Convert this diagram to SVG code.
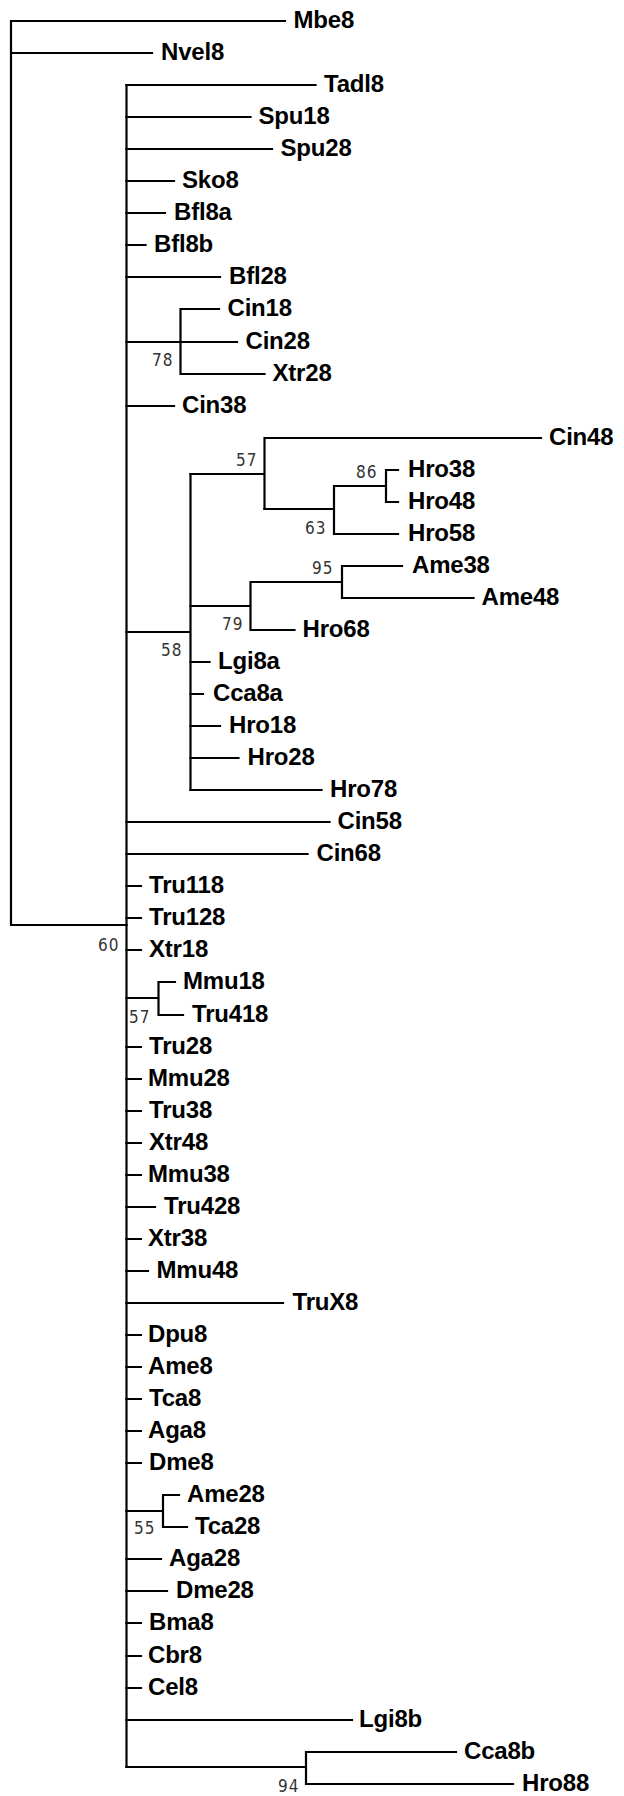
<svg xmlns="http://www.w3.org/2000/svg" width="624" height="1796" viewBox="0 0 624 1796">
<style>
.c{fill:none;stroke:#000;stroke-width:2.2;stroke-linecap:square}
.t{font-family:"Liberation Sans",Arial,sans-serif;font-weight:700;font-size:24px;letter-spacing:-0.2px;fill:#000}
.b{font-family:"DejaVu Sans Condensed","DejaVu Sans",sans-serif;font-size:17px;letter-spacing:1px;fill:#333}
</style>
<rect width="624" height="1796" fill="#fff"/>
<g id="connectors">
<path class="c" d="M11 21V925H126.5M11 21H285M11 53H152"/>
<path class="c" d="M126.5 85V1767"/>
<path class="c" d="M126.5 85H315.5M126.5 117H250.5M126.5 149H272M126.5 181H174M126.5 213H165M126.5 245H145.5M126.5 277H220"/>
<path class="c" d="M180.5 309V374M180.5 309H219M126.5 342H237M180.5 374H264.5"/>
<path class="c" d="M126.5 406H174"/>
<path class="c" d="M126.5 632H190.5M190.5 474V790"/>
<path class="c" d="M190.5 474H264.5M264.5 438V509M264.5 438H541"/>
<path class="c" d="M264.5 509H334M334 486V534M334 534H398M334 486H386M386 470V502M386 470H398M386 502H398"/>
<path class="c" d="M190.5 606H250.5M250.5 582V630M250.5 630H294.5M250.5 582H342M342 566V598M342 566H402M342 598H473.5"/>
<path class="c" d="M190.5 662H209.5M190.5 694H203M190.5 726H220M190.5 758H238.5M190.5 790H321.5"/>
<path class="c" d="M126.5 822H329.5M126.5 854H307.5M126.5 886H141M126.5 918H141M126.5 950H141"/>
<path class="c" d="M126.5 998H158.5M158.5 982V1015M158.5 982H175M158.5 1015H183"/>
<path class="c" d="M126.5 1047H141M126.5 1079H141M126.5 1111H141M126.5 1143H141M126.5 1175H141M126.5 1207H155M126.5 1239H141M126.5 1271H148M126.5 1303H283"/>
<path class="c" d="M126.5 1335H141M126.5 1367H141M126.5 1399H141M126.5 1431H141M126.5 1463H141"/>
<path class="c" d="M126.5 1511H163M163 1495V1527M163 1495H179M163 1527H187"/>
<path class="c" d="M126.5 1559H161M126.5 1591H167M126.5 1623H141M126.5 1656H141M126.5 1688H141M126.5 1720H352"/>
<path class="c" d="M126.5 1767H306M306 1752V1784M306 1752H456M306 1784H513"/>
</g>
<g id="support">
<text class="b" x="152" y="366">78</text>
<text class="b" x="236" y="466">57</text>
<text class="b" x="356" y="478">86</text>
<text class="b" x="305" y="534">63</text>
<text class="b" x="312" y="574">95</text>
<text class="b" x="222" y="630">79</text>
<text class="b" x="161" y="656">58</text>
<text class="b" x="98" y="951">60</text>
<text class="b" x="129" y="1023">57</text>
<text class="b" x="134" y="1534">55</text>
<text class="b" x="278" y="1792">94</text>
</g>
<g id="n-Mbe8"><text class="t" x="293.5" y="28">Mbe8</text></g>
<g id="n-Nvel8"><text class="t" x="161" y="60">Nvel8</text></g>
<g id="n-Tadl8"><text class="t" x="324" y="92">Tadl8</text></g>
<g id="n-Spu18"><text class="t" x="258.5" y="124">Spu18</text></g>
<g id="n-Spu28"><text class="t" x="280.5" y="156">Spu28</text></g>
<g id="n-Sko8"><text class="t" x="182" y="188">Sko8</text></g>
<g id="n-Bfl8a"><text class="t" x="174" y="220">Bfl8a</text></g>
<g id="n-Bfl8b"><text class="t" x="154" y="252">Bfl8b</text></g>
<g id="n-Bfl28"><text class="t" x="229" y="284">Bfl28</text></g>
<g id="n-Cin18"><text class="t" x="227.5" y="316">Cin18</text></g>
<g id="n-Cin28"><text class="t" x="245.5" y="349">Cin28</text></g>
<g id="n-Xtr28"><text class="t" x="272.5" y="381">Xtr28</text></g>
<g id="n-Cin38"><text class="t" x="182" y="413">Cin38</text></g>
<g id="n-Cin48"><text class="t" x="549" y="445">Cin48</text></g>
<g id="n-Hro38"><text class="t" x="408" y="477">Hro38</text></g>
<g id="n-Hro48"><text class="t" x="408" y="509">Hro48</text></g>
<g id="n-Hro58"><text class="t" x="408" y="541">Hro58</text></g>
<g id="n-Ame38"><text class="t" x="412" y="573">Ame38</text></g>
<g id="n-Ame48"><text class="t" x="481.5" y="605">Ame48</text></g>
<g id="n-Hro68"><text class="t" x="302.5" y="637">Hro68</text></g>
<g id="n-Lgi8a"><text class="t" x="218" y="669">Lgi8a</text></g>
<g id="n-Cca8a"><text class="t" x="213" y="701">Cca8a</text></g>
<g id="n-Hro18"><text class="t" x="229" y="733">Hro18</text></g>
<g id="n-Hro28"><text class="t" x="247.5" y="765">Hro28</text></g>
<g id="n-Hro78"><text class="t" x="330" y="797">Hro78</text></g>
<g id="n-Cin58"><text class="t" x="337.5" y="829">Cin58</text></g>
<g id="n-Cin68"><text class="t" x="316.5" y="861">Cin68</text></g>
<g id="n-Tru118"><text class="t" x="149" y="893">Tru118</text></g>
<g id="n-Tru128"><text class="t" x="149" y="925">Tru128</text></g>
<g id="n-Xtr18"><text class="t" x="149" y="957">Xtr18</text></g>
<g id="n-Mmu18"><text class="t" x="183" y="989">Mmu18</text></g>
<g id="n-Tru418"><text class="t" x="192" y="1022">Tru418</text></g>
<g id="n-Tru28"><text class="t" x="149" y="1054">Tru28</text></g>
<g id="n-Mmu28"><text class="t" x="148" y="1086">Mmu28</text></g>
<g id="n-Tru38"><text class="t" x="149" y="1118">Tru38</text></g>
<g id="n-Xtr48"><text class="t" x="149" y="1150">Xtr48</text></g>
<g id="n-Mmu38"><text class="t" x="148" y="1182">Mmu38</text></g>
<g id="n-Tru428"><text class="t" x="164" y="1214">Tru428</text></g>
<g id="n-Xtr38"><text class="t" x="148" y="1246">Xtr38</text></g>
<g id="n-Mmu48"><text class="t" x="156.5" y="1278">Mmu48</text></g>
<g id="n-TruX8"><text class="t" x="292.5" y="1310">TruX8</text></g>
<g id="n-Dpu8"><text class="t" x="148" y="1342">Dpu8</text></g>
<g id="n-Ame8"><text class="t" x="148" y="1374">Ame8</text></g>
<g id="n-Tca8"><text class="t" x="149" y="1406">Tca8</text></g>
<g id="n-Aga8"><text class="t" x="148" y="1438">Aga8</text></g>
<g id="n-Dme8"><text class="t" x="149" y="1470">Dme8</text></g>
<g id="n-Ame28"><text class="t" x="187" y="1502">Ame28</text></g>
<g id="n-Tca28"><text class="t" x="195" y="1534">Tca28</text></g>
<g id="n-Aga28"><text class="t" x="169" y="1566">Aga28</text></g>
<g id="n-Dme28"><text class="t" x="176" y="1598">Dme28</text></g>
<g id="n-Bma8"><text class="t" x="149" y="1630">Bma8</text></g>
<g id="n-Cbr8"><text class="t" x="148" y="1663">Cbr8</text></g>
<g id="n-Cel8"><text class="t" x="148" y="1695">Cel8</text></g>
<g id="n-Lgi8b"><text class="t" x="359" y="1727">Lgi8b</text></g>
<g id="n-Cca8b"><text class="t" x="464" y="1759">Cca8b</text></g>
<g id="n-Hro88"><text class="t" x="522" y="1791">Hro88</text></g>
</svg>
